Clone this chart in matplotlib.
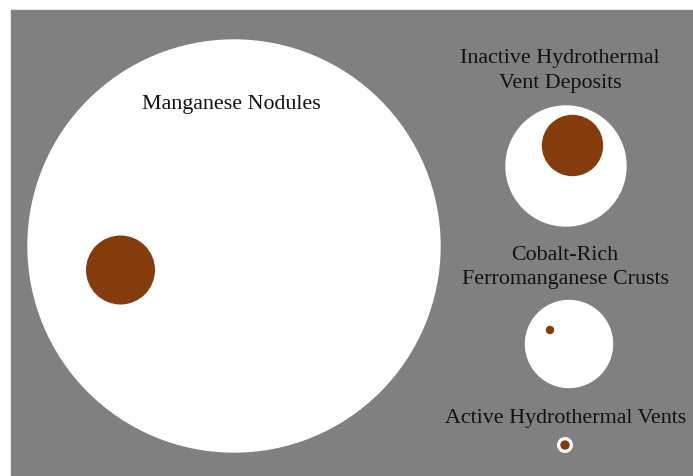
import matplotlib
matplotlib.use("Agg")
import matplotlib.pyplot as plt
from matplotlib.patches import Circle, Rectangle

# -----------------------------
# Data
# -----------------------------
labels = [
    "Manganese Nodules",
    "Inactive Hydrothermal\nVent Deposits",
    "Cobalt-Rich\nFerromanganese Crusts",
    "Active Hydrothermal Vents",
]
outer_radius = [206, 60, 43.5, 7.3]
inner_radius = [33.8, 30, 3.5, 4.0]

# -----------------------------
# Layout (pixel coords, y downward)
# -----------------------------
outer_xy = [(234, 247), (566, 167), (569, 345), (565, 446)]
inner_xy = [(120.5, 271), (572.5, 146.5), (550, 331), (565, 446)]
label_xy = [(231, 109.3), (560, 63.3), (565, 260), (566, 423.3)]
line_gap = 24.5

W, H = 693, 477
GRAY = "#808080"
BROWN = "#843c0c"

fig = plt.figure(figsize=(W / 100, H / 100), dpi=100)
ax = fig.add_axes([0, 0, 1, 1])
ax.set_xlim(0, W)
ax.set_ylim(H, 0)
ax.axis("off")

ax.add_patch(Rectangle((11, 11), W - 11, H - 11, color=GRAY, zorder=0))

for r, (x, y) in zip(outer_radius, outer_xy):
    ax.add_patch(Circle((x, y), r, color="white", zorder=1))
for r, (x, y) in zip(inner_radius, inner_xy):
    ax.add_patch(Circle((x, y), r, color=BROWN, zorder=2))

for text, (x, y) in zip(labels, label_xy):
    for i, line in enumerate(text.split("\n")):
        ax.text(x, y + i * line_gap, line, ha="center", va="baseline",
                fontsize=15.8, family="Liberation Serif", color="#111111", zorder=3)

fig.savefig("out.png", dpi=100)
